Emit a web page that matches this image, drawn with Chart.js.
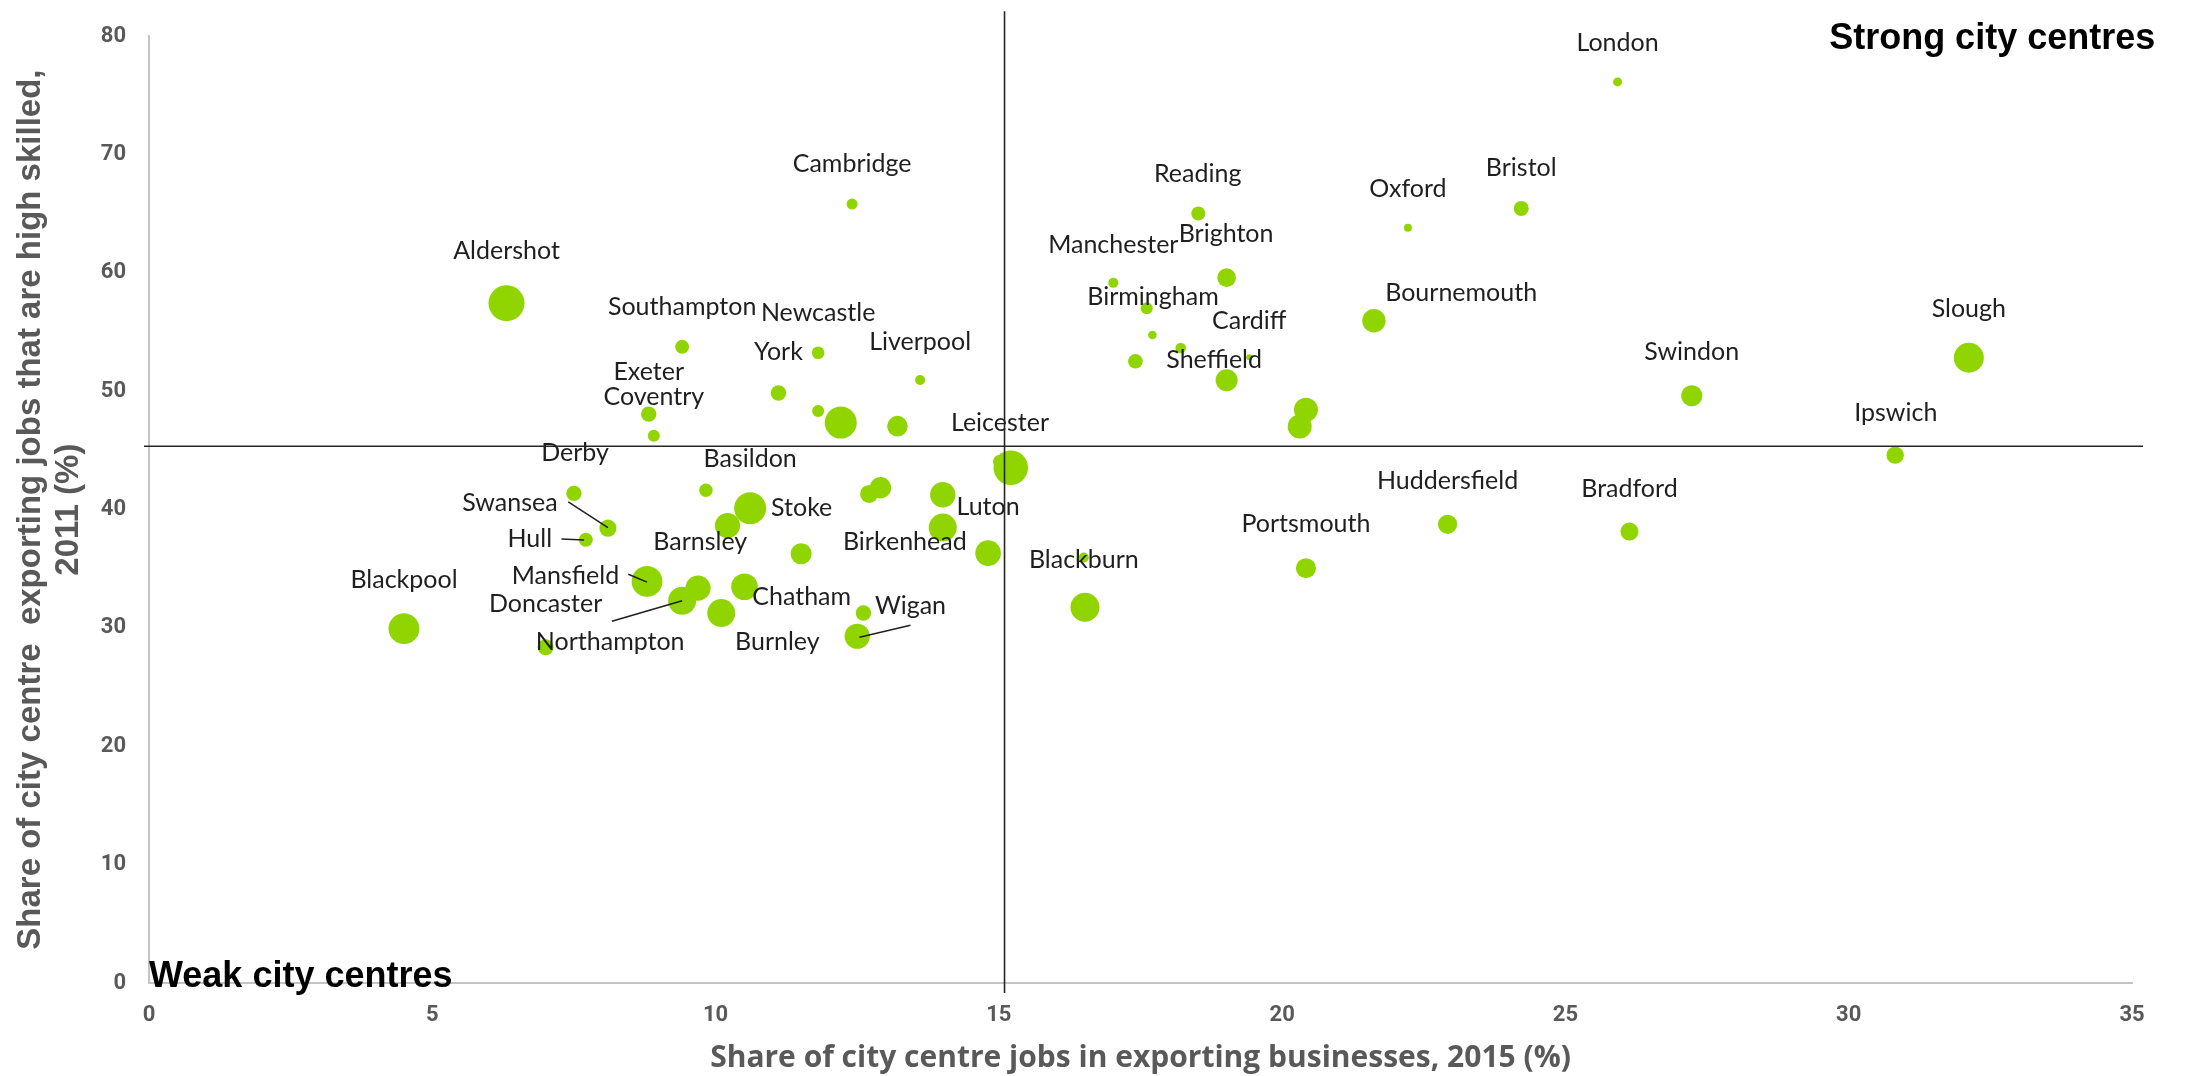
<!DOCTYPE html>
<html>
<head>
<meta charset="utf-8">
<title>Strong and weak city centres</title>
<script src="https://cdn.jsdelivr.net/npm/chart.js@4.4.1/dist/chart.umd.min.js"></script>
<style>
  html, body { margin: 0; padding: 0; background: #fff; }
  #wrap { width: 2185px; height: 1076px; }
</style>
</head>
<body>
<div id="wrap"><canvas id="chart" width="2185" height="1076"></canvas></div>
<script>
// ==================== DATA ====================
// one entry per city centre (x = exporting jobs 2015, y = high skilled 2011)
var exportShare = [
  25.92, 12.41, 18.52, 22.22, 24.22, 19.02, 17.02, 6.31, 21.62, 17.61,
  17.71, 18.21, 19.42, 17.41, 19.02, 20.42, 20.31, 32.12, 27.23, 30.82,
  22.92, 26.13, 20.42, 16.50, 16.52, 15.21, 15.02, 14.81, 13.61, 11.81,
  11.11, 11.81, 12.21, 13.21, 9.41, 8.82, 8.91, 7.50, 9.83, 10.61,
  12.91, 12.71, 14.01, 8.10, 7.71, 10.21, 14.01, 11.51, 8.79, 9.69,
  9.41, 10.51, 10.10, 12.61, 12.50, 4.50, 7.00
];
var highSkilledShare = [
  76.14, 65.82, 65.02, 63.82, 65.45, 59.60, 59.16, 57.44, 55.96, 57.02,
  54.75, 53.65, 52.87, 52.53, 50.93, 48.43, 47.03, 52.83, 49.62, 44.60,
  38.76, 38.14, 35.05, 35.95, 31.75, 43.54, 44.04, 36.32, 50.95, 53.25,
  49.85, 48.34, 47.35, 47.05, 53.75, 48.07, 46.24, 41.37, 41.63, 40.11,
  41.85, 41.32, 41.26, 38.44, 37.45, 38.65, 38.48, 36.27, 33.93, 33.36,
  32.30, 33.48, 31.26, 31.26, 29.30, 29.94, 28.37
];
var bubbleSize = [
  4.5, 5.5, 7, 4, 7.5, 9.3, 5, 18, 11.7, 6,
  4.3, 5.3, 3, 7.3, 11, 12, 12, 15, 10.6, 8.7,
  9.6, 9, 10, 5, 14.5, 17.3, 7, 12.8, 5, 6.3,
  7.7, 6, 16, 10.3, 7, 7.7, 6, 7.7, 6.7, 16,
  10.7, 9, 12.7, 8.6, 7, 12.6, 14, 10.5, 15.4, 12.6,
  14, 13.3, 14, 7.7, 12.6, 15.4, 8
];

var xTicks = [0, 5, 10, 15, 20, 25, 30, 35];
var yTicks = [0, 10, 20, 30, 40, 50, 60, 70, 80];

// averages used for the quadrant lines
var avgExportShare = 15.1;
var avgHighSkilled = 45.35;

// city name labels, placed in data units
var labelNames = [
  'London', 'Cambridge', 'Reading', 'Oxford', 'Bristol', 'Brighton', 'Manchester',
  'Aldershot', 'Birmingham', 'Cardiff', 'Sheffield', 'Bournemouth', 'Slough',
  'Swindon', 'Ipswich', 'Huddersfield', 'Bradford', 'Portsmouth', 'Blackburn',
  'Leicester', 'Liverpool', 'York', 'Newcastle', 'Southampton', 'Exeter',
  'Coventry', 'Derby', 'Basildon', 'Stoke', 'Luton', 'Birkenhead', 'Barnsley',
  'Chatham', 'Blackpool', 'Mansfield', 'Doncaster', 'Wigan', 'Northampton',
  'Burnley', 'Hull', 'Swansea'
];
var labelX = [
  25.92, 12.41, 18.51, 22.22, 24.22, 19.01, 17.02,
  6.31, 17.72, 19.42, 18.80, 23.16, 32.12,
  27.23, 30.83, 22.92, 26.13, 20.42, 16.50,
  15.02, 13.61, 11.11, 11.81, 9.41, 8.82,
  8.91, 7.52, 10.61, 11.52, 14.81, 13.34, 9.73,
  11.52, 4.50, 7.35, 7.00, 13.44, 8.14,
  11.09, 6.72, 6.37
];
var labelY = [
  79.42, 69.18, 68.40, 67.09, 68.89, 63.25, 62.40,
  61.82, 58.00, 55.96, 52.61, 58.34, 56.95,
  53.33, 48.19, 42.40, 41.78, 38.83, 35.75,
  47.34, 54.19, 53.35, 56.65, 57.09, 51.59,
  49.56, 44.78, 44.25, 40.10, 40.24, 37.23, 37.23,
  32.58, 34.07, 34.43, 32.01, 31.82, 28.79,
  28.82, 37.52, 40.58
];

// leader lines from a label to its bubble
var leaderX1 = [7.40, 7.28, 8.46, 8.17, 13.44];
var leaderY1 = [40.66, 37.52, 34.54, 30.56, 30.22];
var leaderX2 = [8.10, 7.68, 8.79, 9.41, 12.54];
var leaderY2 = [38.47, 37.44, 33.87, 32.30, 29.21];

// quadrant captions
var strongText = 'Strong city centres', strongX = 35.41, strongY = 79.72;
var weakText = 'Weak city centres', weakX = 0, weakY = 0.5;

var xTitle = 'Share of city centre jobs in exporting businesses, 2015 (%)';
var yTitle = ['Share of city centre  exporting jobs that are high skilled,', '2011 (%)'];

// ==================== PLUGINS ====================
var GREY = '#595959';

var labelsPlugin = {
  id: 'cityLabels',
  afterDatasetsDraw: function (chart) {
    var ctx = chart.ctx, xs = chart.scales.x, ys = chart.scales.y;
    ctx.save();
    ctx.fillStyle = '#1f1f1f';
    ctx.font = '25px Lato, "Open Sans", sans-serif';
    ctx.textAlign = 'center';
    ctx.textBaseline = 'middle';
    for (var i = 0; i < labelNames.length; i++) {
      ctx.fillText(labelNames[i], xs.getPixelForValue(labelX[i]), ys.getPixelForValue(labelY[i]));
    }

    // leader lines
    ctx.strokeStyle = '#1f1f1f';
    ctx.lineWidth = 1.5;
    for (var j = 0; j < leaderX1.length; j++) {
      ctx.beginPath();
      ctx.moveTo(xs.getPixelForValue(leaderX1[j]), ys.getPixelForValue(leaderY1[j]));
      ctx.lineTo(xs.getPixelForValue(leaderX2[j]), ys.getPixelForValue(leaderY2[j]));
      ctx.stroke();
    }

    // quadrant captions
    ctx.fillStyle = '#000';
    ctx.font = 'bold 36px "Liberation Sans", Arial, sans-serif';
    ctx.textAlign = 'right';
    ctx.fillText(strongText, xs.getPixelForValue(strongX), ys.getPixelForValue(strongY));
    ctx.textAlign = 'left';
    ctx.fillText(weakText, xs.getPixelForValue(weakX), ys.getPixelForValue(weakY));
    ctx.restore();
  }
};

var quadrantPlugin = {
  id: 'quadrantLines',
  afterDraw: function (chart) {
    var ctx = chart.ctx, xs = chart.scales.x, ys = chart.scales.y, area = chart.chartArea;
    var px = xs.getPixelForValue(avgExportShare);
    var py = ys.getPixelForValue(avgHighSkilled);
    ctx.save();
    ctx.strokeStyle = '#262626';
    ctx.lineWidth = 1.6;
    ctx.beginPath();
    ctx.moveTo(px, area.top - 25);
    ctx.lineTo(px, area.bottom + 10);
    ctx.stroke();
    ctx.beginPath();
    ctx.moveTo(area.left - 5, py);
    ctx.lineTo(area.right + 11, py);
    ctx.stroke();
    ctx.restore();
  }
};

// ==================== CHART ====================
function buildPoints() {
  var pts = [];
  for (var i = 0; i < exportShare.length; i++) {
    pts.push({ x: exportShare[i], y: highSkilledShare[i], r: bubbleSize[i] });
  }
  return pts;
}

function initChart() {
  var ctx = document.getElementById('chart').getContext('2d');
  new Chart(ctx, {
    type: 'bubble',
    data: {
      datasets: [{
        data: buildPoints(),
        backgroundColor: '#90D500',
        borderWidth: 0,
        hoverRadius: 0
      }]
    },
    options: {
      responsive: false,
      animation: false,
      devicePixelRatio: 1,
      layout: { padding: { top: 33, right: 53, left: 0, bottom: 0 } },
      plugins: {
        legend: { display: false },
        tooltip: { enabled: false }
      },
      scales: {
        x: {
          type: 'linear',
          min: 0,
          max: 35,
          grid: { display: false, drawTicks: false },
          border: { display: true, color: '#c4c4c4', width: 2 },
          afterBuildTicks: function (s) { s.ticks = xTicks.map(function (v) { return { value: v }; }); },
          afterFit: function (s) { s.height = 93; },
          ticks: {
            padding: 19,
            color: GREY,
            font: { family: 'Roboto, sans-serif', size: 22, weight: 'bold' }
          },
          title: {
            display: true,
            text: xTitle,
            color: GREY,
            padding: { top: 0, bottom: 0 },
            font: { family: '"Open Sans", sans-serif', size: 30, weight: 'bold', lineHeight: 1.2 }
          }
        },
        y: {
          type: 'linear',
          min: 0,
          max: 80,
          grid: { display: false, drawTicks: false },
          border: { display: true, color: '#c4c4c4', width: 2 },
          afterBuildTicks: function (s) { s.ticks = yTicks.map(function (v) { return { value: v }; }); },
          afterFit: function (s) { s.width = 149; },
          ticks: {
            padding: 23,
            color: GREY,
            font: { family: 'Roboto, sans-serif', size: 22, weight: 'bold' }
          },
          title: {
            display: true,
            text: yTitle,
            color: GREY,
            padding: { top: 12, bottom: 0 },
            font: { family: '"Liberation Sans", Arial, sans-serif', size: 33, weight: 'bold', lineHeight: 1.15 }
          }
        }
      }
    },
    plugins: [labelsPlugin, quadrantPlugin]
  });
}

initChart();
</script>
</body>
</html>
